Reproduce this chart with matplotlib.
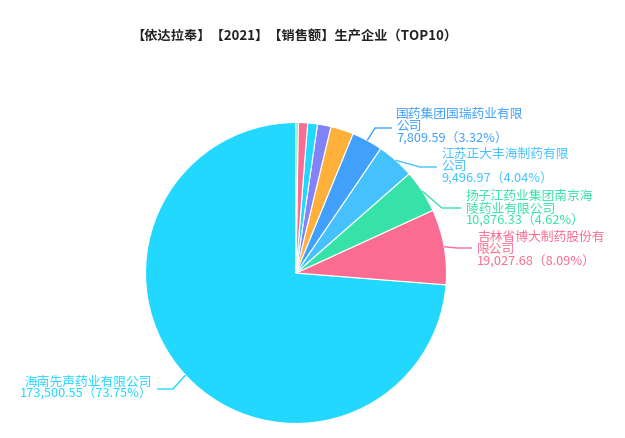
import matplotlib
matplotlib.use("Agg")
import matplotlib.pyplot as plt
import numpy as np

plt.rcParams['font.family'] = ['Noto Sans CJK SC', 'DejaVu Sans']

title = "【依达拉奉】【2021】【销售额】生产企业（TOP10）"

# Sales of the top-10 producers (descending); only the first five are labelled
sales = [173500.55, 19027.68, 10876.33, 9496.97, 7809.59,
         5763.21, 3411.46, 2470.38, 2352.60, 550.25]
label_names = [
    ["海南先声药业有限公司"],
    ["吉林省博大制药股份有", "限公司"],
    ["扬子江药业集团南京海", "陵药业有限公司"],
    ["江苏正大丰海制药有限", "公司"],
    ["国药集团国瑞药业有限", "公司"],
]
colors = ["#22d8ff", "#fb6c92", "#37e2a8", "#45c2fe", "#41a0fc",
          "#ffb03a", "#8383f8", "#22d8ff", "#fb6c92", "#37e2a8"]

# label layout in pixel space: (elbow x, elbow y, line end x, text x, first line y, align)
label_layout = [
    (173, 390, 157, 152, 382.0, "right"),
    (457, 249, 472, 477, 237.0, "left"),
    (442, 209, 461, 466, 196.5, "left"),
    (420, 168, 437, 441, 154.0, "left"),
    (375, 129, 392, 396, 114.0, "left"),
]

W, H = 625, 439
fig = plt.figure(figsize=(W / 100, H / 100), dpi=100)
ax = fig.add_axes([0, 0, 1, 1])
ax.axis("off")

cx, cy, r = 296, 274, 150.5
# y axis is inverted, so data angle -90 is the top of the pie and
# clockwise in data space reads counter-clockwise on screen
wedges, _ = ax.pie(sales, colors=colors, center=(cx, cy), radius=r,
                   startangle=-90, counterclock=False,
                   wedgeprops=dict(edgecolor="white", linewidth=0.8))
ax.set_xlim(0, W)
ax.set_ylim(H, 0)
ax.set_aspect("equal")

total = sum(sales)
line_h = 12.5
for i, (names, lay) in enumerate(zip(label_names, label_layout)):
    w = wedges[i]
    mid = np.deg2rad((w.theta1 + w.theta2) / 2)
    x0 = cx + r * np.cos(mid)
    y0 = cy + r * np.sin(mid)
    ex, ey, lx, tx, ty, ha = lay
    col = colors[i]
    ax.plot([x0, ex, lx], [y0, ey, ey], color=col, lw=1, solid_capstyle="butt")
    pct = sales[i] / total * 100
    lines = names + [f"{sales[i]:,.2f}（{pct:.2f}%）"]
    for k, s in enumerate(lines):
        ax.text(tx, ty + k * line_h, s, color=col, fontsize=9.2,
                ha=ha, va="center")

ax.text(294, 36, title, fontsize=9.5, fontweight="bold", color="#222222",
        ha="center", va="center")

fig.savefig("out.png", dpi=100)
